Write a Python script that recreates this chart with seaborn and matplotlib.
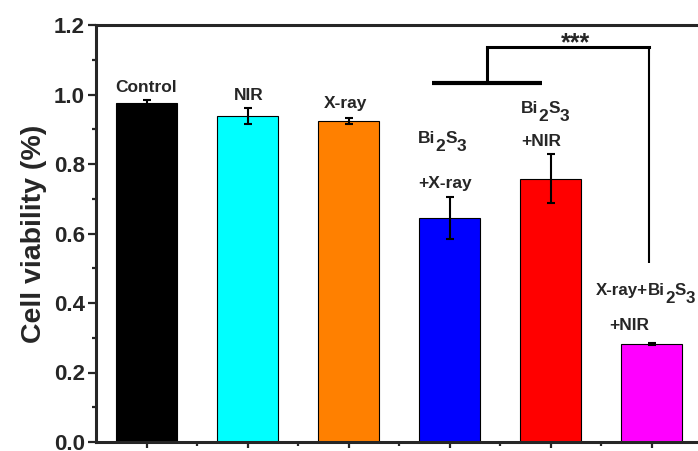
import numpy as np
import pandas as pd
import matplotlib
matplotlib.use("Agg")
import matplotlib.pyplot as plt
import seaborn as sns
from matplotlib.ticker import MultipleLocator
from matplotlib.transforms import offset_copy

# ---- data ----
categories = ["Control", "NIR", "X-ray", "Bi2S3+X-ray", "Bi2S3+NIR", "X-ray+Bi2S3+NIR"]
viability = [0.975, 0.938, 0.923, 0.645, 0.758, 0.283]
errors = [0.009, 0.023, 0.009, 0.060, 0.070, 0.003]
colors = ["#000000", "#00FFFF", "#FF8000", "#0000FF", "#FF0000", "#FF00FF"]
y_ticks = [0.0, 0.2, 0.4, 0.6, 0.8, 1.0, 1.2]

sns.set_style("ticks")
plt.rcParams["font.family"] = ["Liberation Sans", "DejaVu Sans"]
plt.rcParams["font.weight"] = "bold"

df = pd.DataFrame({"group": categories, "viability": viability})

fig = plt.figure(figsize=(6.98, 4.51), dpi=100)
ax = fig.add_axes([96 / 698, 9 / 451, 606 / 698, 417 / 451])

sns.barplot(data=df, x="group", y="viability", hue="group", palette=colors,
            saturation=1, legend=False, width=0.6, edgecolor="black",
            linewidth=0.8, errorbar=None, ax=ax)
ax.errorbar(np.arange(len(categories)), viability, yerr=errors, fmt="none",
            ecolor="black", elinewidth=1.5, capsize=2.6, capthick=1.5, zorder=5)

ax.set_xlim(-0.5, 5.5)
ax.set_ylim(0, 1.2)
ax.set_yticks(y_ticks)
ax.set_yticklabels([f"{v:.1f}" for v in y_ticks])
ax.yaxis.set_minor_locator(MultipleLocator(0.1))
ax.set_xticks(np.arange(len(categories)))
ax.set_xticklabels([])
ax.set_xticks(np.arange(len(categories) - 1) + 0.5, minor=True)
ax.set_xlabel("")
ax.set_ylabel("Cell viability (%)", fontsize=20.5, fontweight="bold", labelpad=5)

for side in ["left", "bottom", "top"]:
    ax.spines[side].set_linewidth(2.2)
ax.spines["right"].set_visible(False)
ax.tick_params(axis="y", which="major", direction="out", length=6, width=1.6,
               labelsize=16, pad=2)
ax.tick_params(axis="y", which="minor", direction="out", length=3, width=1.6)
ax.tick_params(axis="x", which="major", direction="out", length=4.5, width=1.6)
ax.tick_params(axis="x", which="minor", direction="out", length=3, width=1.6)
for lab in ax.get_yticklabels():
    lab.set_fontweight("bold")

fs = 12.5
fig.canvas.draw()
renderer = fig.canvas.get_renderer()


def rich_text(x, y, parts, size=fs, sub_drop=6.0):
    """Draw text centred at data x with baseline y; parts = [(str, is_sub)]."""
    widths = []
    for s, _ in parts:
        t = ax.text(0, 0, s, fontsize=size, fontweight="bold")
        widths.append(t.get_window_extent(renderer).width * 72 / fig.dpi)
        t.remove()
    total = sum(widths)
    cur = -total / 2
    for (s, sub), w in zip(parts, widths):
        tr = offset_copy(ax.transData, fig=fig, x=cur, y=-sub_drop if sub else 0,
                         units="points")
        ax.text(x, y, s, transform=tr, ha="left", va="baseline",
                fontsize=size, fontweight="bold")
        cur += w


bi = [("Bi", False), ("2", True), ("S", False), ("3", True)]
labels = [
    ([("Control", False)], 0.0, 1.007, fs),
    ([("NIR", False)], 1.01, 0.984, fs),
    ([("X-ray", False)], 1.97, 0.961, fs),
    (bi, 2.93, 0.860, fs),
    ([("+X-ray", False)], 2.96, 0.731, fs),
    (bi, 3.95, 0.947, fs),
    ([("+NIR", False)], 3.91, 0.852, fs),
    ([("X-ray+", False)] + bi, 4.94, 0.423, 12.2),
    ([("+NIR", False)], 4.78, 0.322, fs),
]
for parts, x, y, size in labels:
    rich_text(x, y, parts, size=size)

# significance bracket
ax.plot([2.83, 3.92], [1.033, 1.033], color="black", lw=3.0, solid_capstyle="butt", clip_on=False)
ax.plot([3.376, 3.376], [1.033, 1.137], color="black", lw=2.2, solid_capstyle="butt", clip_on=False)
ax.plot([3.376, 4.98], [1.137, 1.137], color="black", lw=2.2, solid_capstyle="projecting", clip_on=False)
ax.plot([4.98, 4.98], [1.137, 0.515], color="black", lw=1.5, solid_capstyle="butt", clip_on=False)
ax.text(4.25, 1.128, "***", ha="center", va="baseline", fontsize=18, fontweight="bold")

fig.savefig("out.png", dpi=100)
